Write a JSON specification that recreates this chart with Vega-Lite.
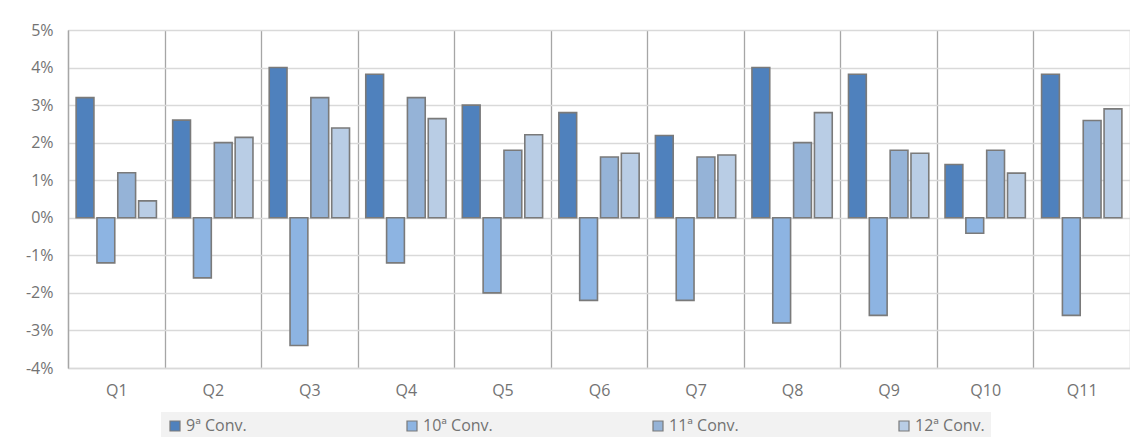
{
  "$schema": "https://vega.github.io/schema/vega-lite/v6.json",
  "width": 1062,
  "height": 338,
  "autosize": {"type": "none"},
  "padding": {"left": 68, "top": 30, "right": 0, "bottom": 69},
  "background": "white",
  "config": {"view": {"stroke": null}, "font": "Open Sans"},
  "data": {
    "values": [
      {"q": "Q1", "conv": "9ª Conv.", "v": 3.2},
      {"q": "Q1", "conv": "10ª Conv.", "v": -1.2},
      {"q": "Q1", "conv": "11ª Conv.", "v": 1.2},
      {"q": "Q1", "conv": "12ª Conv.", "v": 0.45},
      {"q": "Q2", "conv": "9ª Conv.", "v": 2.6},
      {"q": "Q2", "conv": "10ª Conv.", "v": -1.6},
      {"q": "Q2", "conv": "11ª Conv.", "v": 2.0},
      {"q": "Q2", "conv": "12ª Conv.", "v": 2.14},
      {"q": "Q3", "conv": "9ª Conv.", "v": 4.0},
      {"q": "Q3", "conv": "10ª Conv.", "v": -3.4},
      {"q": "Q3", "conv": "11ª Conv.", "v": 3.2},
      {"q": "Q3", "conv": "12ª Conv.", "v": 2.39},
      {"q": "Q4", "conv": "9ª Conv.", "v": 3.82},
      {"q": "Q4", "conv": "10ª Conv.", "v": -1.2},
      {"q": "Q4", "conv": "11ª Conv.", "v": 3.2},
      {"q": "Q4", "conv": "12ª Conv.", "v": 2.64},
      {"q": "Q5", "conv": "9ª Conv.", "v": 3.0},
      {"q": "Q5", "conv": "10ª Conv.", "v": -2.0},
      {"q": "Q5", "conv": "11ª Conv.", "v": 1.8},
      {"q": "Q5", "conv": "12ª Conv.", "v": 2.21},
      {"q": "Q6", "conv": "9ª Conv.", "v": 2.8},
      {"q": "Q6", "conv": "10ª Conv.", "v": -2.2},
      {"q": "Q6", "conv": "11ª Conv.", "v": 1.62},
      {"q": "Q6", "conv": "12ª Conv.", "v": 1.72},
      {"q": "Q7", "conv": "9ª Conv.", "v": 2.19},
      {"q": "Q7", "conv": "10ª Conv.", "v": -2.2},
      {"q": "Q7", "conv": "11ª Conv.", "v": 1.62},
      {"q": "Q7", "conv": "12ª Conv.", "v": 1.67},
      {"q": "Q8", "conv": "9ª Conv.", "v": 4.0},
      {"q": "Q8", "conv": "10ª Conv.", "v": -2.8},
      {"q": "Q8", "conv": "11ª Conv.", "v": 2.0},
      {"q": "Q8", "conv": "12ª Conv.", "v": 2.8},
      {"q": "Q9", "conv": "9ª Conv.", "v": 3.82},
      {"q": "Q9", "conv": "10ª Conv.", "v": -2.6},
      {"q": "Q9", "conv": "11ª Conv.", "v": 1.8},
      {"q": "Q9", "conv": "12ª Conv.", "v": 1.72},
      {"q": "Q10", "conv": "9ª Conv.", "v": 1.42},
      {"q": "Q10", "conv": "10ª Conv.", "v": -0.41},
      {"q": "Q10", "conv": "11ª Conv.", "v": 1.8},
      {"q": "Q10", "conv": "12ª Conv.", "v": 1.19},
      {"q": "Q11", "conv": "9ª Conv.", "v": 3.82},
      {"q": "Q11", "conv": "10ª Conv.", "v": -2.6},
      {"q": "Q11", "conv": "11ª Conv.", "v": 2.59},
      {"q": "Q11", "conv": "12ª Conv.", "v": 2.9}
    ]
  },
  "mark": {"type": "bar", "stroke": "#7a7a7a", "strokeWidth": 1.6},
  "encoding": {
    "x": {
      "field": "q",
      "type": "nominal",
      "sort": ["Q1", "Q2", "Q3", "Q4", "Q5", "Q6", "Q7", "Q8", "Q9", "Q10", "Q11"],
      "scale": {"paddingInner": 0, "paddingOuter": 0},
      "axis": {
        "title": null,
        "labelAngle": 0,
        "grid": true,
        "tickBand": "extent",
        "gridColor": "#a6a6a6",
        "gridWidth": 1.3,
        "domainColor": "#d9d9d9",
        "domainWidth": 1.3,
        "ticks": false,
        "labelFontSize": 16,
        "labelColor": "#737373",
        "labelPadding": 14
      }
    },
    "xOffset": {
      "field": "conv",
      "type": "nominal",
      "sort": ["9ª Conv.", "10ª Conv.", "11ª Conv.", "12ª Conv."],
      "scale": {"paddingInner": 0.145, "paddingOuter": 0.39}
    },
    "y": {
      "field": "v",
      "type": "quantitative",
      "scale": {"domain": [-4, 5], "nice": false},
      "axis": {
        "title": null,
        "values": [-4, -3, -2, -1, 0, 1, 2, 3, 4, 5],
        "labelExpr": "datum.value + '%'",
        "grid": true,
        "gridColor": "#d9d9d9",
        "gridWidth": 1.3,
        "domainColor": "#a6a6a6",
        "domainWidth": 1.3,
        "ticks": false,
        "labelFontSize": 16,
        "labelColor": "#737373",
        "labelPadding": 15
      }
    },
    "color": {
      "field": "conv",
      "type": "nominal",
      "scale": {
        "domain": ["9ª Conv.", "10ª Conv.", "11ª Conv.", "12ª Conv."],
        "range": ["#4f81bd", "#8db4e2", "#95b3d7", "#b9cde5"]
      },
      "legend": {
        "orient": "none",
        "legendX": 93,
        "legendY": 382,
        "direction": "horizontal",
        "title": null,
        "symbolType": "square",
        "symbolSize": 100,
        "symbolStrokeColor": "#7a7a7a",
        "symbolStrokeWidth": 1.2,
        "labelFontSize": 16,
        "labelColor": "#737373",
        "labelOffset": 3,
        "columnPadding": 157,
        "fillColor": "#f2f2f2",
        "padding": 6
      }
    }
  }
}
